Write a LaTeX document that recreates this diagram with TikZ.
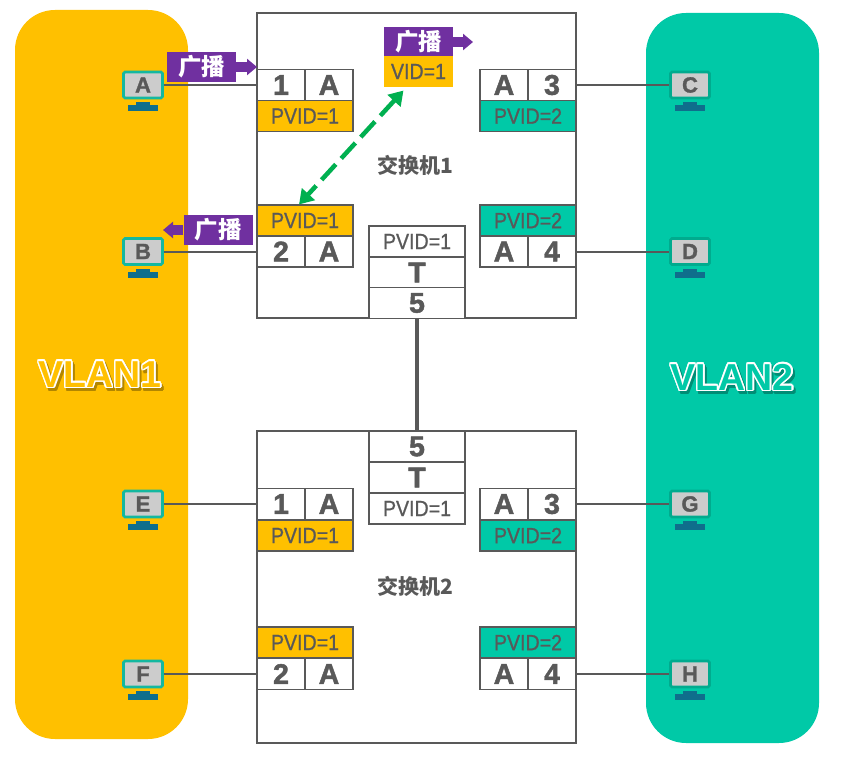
\documentclass[tikz,border=0pt]{standalone}
\usepackage{fontspec}
\usepackage{contour}
\setmainfont{Liberation Sans}
\newfontfamily\cjk{Noto Sans CJK SC}
\newfontfamily\heavy{Liberation Sans Bold}[FakeBold=1.5]
\newfontfamily\slim{Liberation Sans}[FakeBold=0.9,FakeStretch=0.89]
\usetikzlibrary{arrows.meta}
\definecolor{amber}{HTML}{FFC000}
\definecolor{jade}{HTML}{00C9A7}
\definecolor{ink}{HTML}{595959}
\definecolor{royal}{HTML}{7030A0}
\definecolor{deepteal}{HTML}{0F6E8C}
\definecolor{rimteal}{HTML}{14B8A0}
\definecolor{leaf}{HTML}{00B050}
\contourlength{1.5pt}
\tikzset{
  panel/.style={rounded corners=40pt,draw=none},
  switchbox/.style={draw=ink,line width=1.1pt,fill=white},
  cell/.style={draw=ink,line width=1.1pt,fill=white,text=ink,inner sep=0pt,minimum width=48pt,minimum height=31pt,font=\fontsize{28.5}{28}\heavy},
  pvid/.style={draw=ink,line width=1.1pt,fill=white,text=ink,inner sep=0pt,minimum width=96pt,minimum height=31pt,font=\fontsize{22}{22}\slim},
  bcast/.style={fill=royal,text=white,inner sep=0pt,minimum width=69pt,minimum height=30pt,font=\fontsize{23.5}{24}\cjk\bfseries},
  bcastarrow/.style={draw=royal,line width=10pt,-{Triangle[length=10pt,width=16pt]}},
  pc/.style={draw=rimteal,line width=2.6pt,rounded corners=1.5pt,fill=black!20,text=ink,inner sep=0pt,minimum width=39pt,minimum height=26pt,font=\fontsize{22}{22}\heavy},
  stand/.style={fill=deepteal},
  link/.style={draw=ink,line width=2pt},
  vlanlabel/.style={inner sep=0pt,font=\fontsize{37.5}{37}\bfseries},
}
\begin{document}
\begin{tikzpicture}[x=1pt,y=-1pt]
\useasboundingbox (0,0) rectangle (850,759);
% vlan areas
\fill[panel,amber] (15,10) rectangle (188,739);
\fill[panel,jade] (646,13) rectangle (819,743);
\node[vlanlabel] (vlan1s) at (102,378) {\contour{amber!70!black}{\textcolor{amber!70!black}{VLAN1}}};
\node[vlanlabel] (vlan1) at (100,375) {\contour{white}{\textcolor{amber}{VLAN1}}};
\node[vlanlabel] (vlan2s) at (734,381) {\contour{jade!70!black}{\textcolor{jade!70!black}{VLAN2}}};
\node[vlanlabel] (vlan2) at (732,378) {\contour{white}{\textcolor{jade}{VLAN2}}};
% switches
\draw[switchbox] (257,13) rectangle (576,318);
\draw[switchbox] (257,431) rectangle (576,743);
\node[text=ink,font=\fontsize{21}{21}\cjk\bfseries] (sw1) at (415,165) {交换机1};
\node[text=ink,font=\fontsize{21}{21}\cjk\bfseries] (sw2) at (415,586) {交换机2};
% switch 1 ports
\node[cell] (n1) at (281,85) {1};
\node[cell] (a1) at (329,85) {A};
\node[pvid,fill=amber] (v1) at (305,116) {PVID=1};
\node[cell] (a3) at (504,85) {A};
\node[cell] (n3) at (552,85) {3};
\node[pvid,fill=jade] (v3) at (528,116) {PVID=2};
\node[pvid,fill=amber] (v2) at (305,220.5) {PVID=1};
\node[cell] (n2) at (281,251.5) {2};
\node[cell] (a2) at (329,251.5) {A};
\node[pvid,fill=jade] (v4) at (528,220.5) {PVID=2};
\node[cell] (a4) at (504,251.5) {A};
\node[cell] (n4) at (552,251.5) {4};
\node[pvid] (v5) at (417,241.5) {PVID=1};
\node[cell,minimum width=96pt] (t5) at (417,272.5) {T};
\node[cell,minimum width=96pt] (n5) at (417,303) {5};
% switch 2 ports
\node[cell] (n6) at (281,504) {1};
\node[cell] (a6) at (329,504) {A};
\node[pvid,fill=amber] (v6) at (305,535.5) {PVID=1};
\node[cell] (a8) at (504,504) {A};
\node[cell] (n8) at (552,504) {3};
\node[pvid,fill=jade] (v8) at (528,535.5) {PVID=2};
\node[pvid,fill=amber] (v7) at (305,642.5) {PVID=1};
\node[cell] (n7) at (281,674) {2};
\node[cell] (a7) at (329,674) {A};
\node[pvid,fill=jade] (v9) at (528,642.5) {PVID=2};
\node[cell] (a9) at (504,674) {A};
\node[cell] (n9) at (552,674) {4};
\node[cell,minimum width=96pt] (n10) at (417,446.5) {5};
\node[cell,minimum width=96pt] (t10) at (417,477.5) {T};
\node[pvid] (v10) at (417,508.5) {PVID=1};
% hosts
\node[pc] (A) at (143,85) {A};
\node[pc] (B) at (143,251.5) {B};
\node[pc] (E) at (143,504) {E};
\node[pc] (F) at (143,674) {F};
\node[pc,draw=jade!85!black] (C) at (690,85) {C};
\node[pc,draw=jade!85!black] (D) at (690,251.5) {D};
\node[pc,draw=jade!85!black] (G) at (690,504) {G};
\node[pc,draw=jade!85!black] (H) at (690,674) {H};
\foreach \h in {A,B,E,F,C,D,G,H}{
  \fill[stand] ([shift={(-7,3)}]\h.south) rectangle ([shift={(7,8)}]\h.south);
  \fill[stand] ([shift={(-15,6)}]\h.south) rectangle ([shift={(15,12)}]\h.south);
}
\draw[link] (A.east) -- (n1.west);
\draw[link] (B.east) -- (n2.west);
\draw[link] (E.east) -- (n6.west);
\draw[link] (F.east) -- (n7.west);
\draw[link] (n3.east) -- (C.west);
\draw[link] (n4.east) -- (D.west);
\draw[link] (n8.east) -- (G.west);
\draw[link] (n9.east) -- (H.west);
\draw[draw=ink,line width=4pt] (n5.south) -- (n10.north);
% broadcast
\node[bcast] (ba) at (201.5,67) {广播};
\coordinate (bae) at (257,67);
\draw[bcastarrow] (ba.east) -- (bae);
\node[bcast] (bb) at (218,230) {广播};
\coordinate (bbe) at (163,230);
\draw[bcastarrow] (bb.west) -- (bbe);
\node[bcast] (bv) at (418.5,42) {广播};
\coordinate (bve) at (473,42);
\draw[bcastarrow] (bv.east) -- (bve);
\node[pvid,draw=none,fill=amber,minimum width=69pt] (vid) at (418.5,71.5) {VID=1};
\draw[draw=leaf,line width=4.5pt,dash pattern=on 21pt off 8pt,{Triangle[length=14pt,width=17pt]}-{Triangle[length=14pt,width=17pt]}] ([shift={(20,3)}]vid.south west) -- ([xshift=-6pt]v2.north);
\end{tikzpicture}
\end{document}
